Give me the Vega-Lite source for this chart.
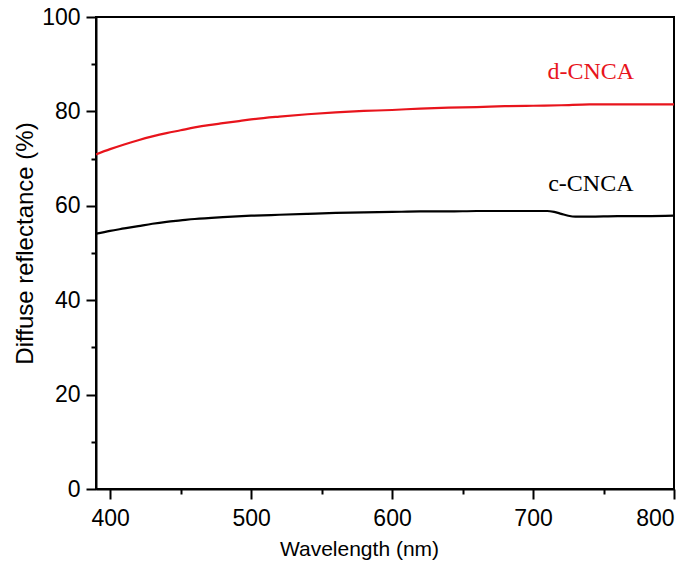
{
  "$schema": "https://vega.github.io/schema/vega-lite/v6.json",
  "width": 578,
  "height": 472,
  "autosize": {"type": "none"},
  "padding": {"left": 96, "top": 17, "right": 7, "bottom": 74},
  "background": "white",
  "config": {
    "view": {"stroke": "black", "strokeWidth": 2},
    "axis": {
      "domainColor": "black", "domainWidth": 2, "tickColor": "black", "tickWidth": 2,
      "labelFont": "Liberation Sans", "labelFontSize": 23, "labelColor": "black",
      "titleFont": "Liberation Sans", "titleFontWeight": "normal", "titleColor": "black",
      "grid": false
    }
  },
  "datasets": {
    "curves": [
      {"wl": 390, "r": 70.9, "s": "d-CNCA"}, {"wl": 400, "r": 72.0, "s": "d-CNCA"}, {"wl": 410, "r": 73.0, "s": "d-CNCA"},
      {"wl": 420, "r": 73.9, "s": "d-CNCA"}, {"wl": 430, "r": 74.7, "s": "d-CNCA"}, {"wl": 440, "r": 75.4, "s": "d-CNCA"},
      {"wl": 450, "r": 76.0, "s": "d-CNCA"}, {"wl": 460, "r": 76.6, "s": "d-CNCA"}, {"wl": 470, "r": 77.1, "s": "d-CNCA"},
      {"wl": 480, "r": 77.5, "s": "d-CNCA"}, {"wl": 490, "r": 77.9, "s": "d-CNCA"}, {"wl": 500, "r": 78.3, "s": "d-CNCA"},
      {"wl": 520, "r": 78.9, "s": "d-CNCA"}, {"wl": 540, "r": 79.4, "s": "d-CNCA"}, {"wl": 560, "r": 79.8, "s": "d-CNCA"},
      {"wl": 580, "r": 80.1, "s": "d-CNCA"}, {"wl": 600, "r": 80.3, "s": "d-CNCA"}, {"wl": 620, "r": 80.6, "s": "d-CNCA"},
      {"wl": 640, "r": 80.8, "s": "d-CNCA"}, {"wl": 660, "r": 80.9, "s": "d-CNCA"}, {"wl": 680, "r": 81.1, "s": "d-CNCA"},
      {"wl": 700, "r": 81.2, "s": "d-CNCA"}, {"wl": 720, "r": 81.3, "s": "d-CNCA"}, {"wl": 740, "r": 81.5, "s": "d-CNCA"},
      {"wl": 760, "r": 81.5, "s": "d-CNCA"}, {"wl": 780, "r": 81.5, "s": "d-CNCA"}, {"wl": 800, "r": 81.5, "s": "d-CNCA"},
      {"wl": 390, "r": 54.1, "s": "c-CNCA"}, {"wl": 400, "r": 54.7, "s": "c-CNCA"}, {"wl": 410, "r": 55.2, "s": "c-CNCA"},
      {"wl": 420, "r": 55.7, "s": "c-CNCA"}, {"wl": 430, "r": 56.2, "s": "c-CNCA"}, {"wl": 440, "r": 56.6, "s": "c-CNCA"},
      {"wl": 450, "r": 56.9, "s": "c-CNCA"}, {"wl": 460, "r": 57.2, "s": "c-CNCA"}, {"wl": 480, "r": 57.6, "s": "c-CNCA"},
      {"wl": 500, "r": 57.9, "s": "c-CNCA"}, {"wl": 520, "r": 58.1, "s": "c-CNCA"}, {"wl": 540, "r": 58.3, "s": "c-CNCA"},
      {"wl": 560, "r": 58.5, "s": "c-CNCA"}, {"wl": 580, "r": 58.6, "s": "c-CNCA"}, {"wl": 600, "r": 58.7, "s": "c-CNCA"},
      {"wl": 620, "r": 58.8, "s": "c-CNCA"}, {"wl": 640, "r": 58.8, "s": "c-CNCA"}, {"wl": 660, "r": 58.9, "s": "c-CNCA"},
      {"wl": 680, "r": 58.9, "s": "c-CNCA"}, {"wl": 700, "r": 58.9, "s": "c-CNCA"}, {"wl": 710, "r": 58.9, "s": "c-CNCA"},
      {"wl": 715, "r": 58.7, "s": "c-CNCA"}, {"wl": 720, "r": 58.3, "s": "c-CNCA"}, {"wl": 725, "r": 57.9, "s": "c-CNCA"},
      {"wl": 730, "r": 57.7, "s": "c-CNCA"}, {"wl": 740, "r": 57.7, "s": "c-CNCA"}, {"wl": 760, "r": 57.8, "s": "c-CNCA"},
      {"wl": 780, "r": 57.8, "s": "c-CNCA"}, {"wl": 800, "r": 57.9, "s": "c-CNCA"}
    ],
    "labels": [
      {"wl": 741, "r": 88.3, "s": "d-CNCA"},
      {"wl": 741, "r": 64.7, "s": "c-CNCA"}
    ]
  },
  "layer": [
    {
      "data": {"name": "curves"},
      "mark": {"type": "line", "strokeWidth": 2.2, "interpolate": "monotone", "clip": true},
      "encoding": {
        "x": {
          "field": "wl", "type": "quantitative",
          "scale": {"domain": [390, 800], "nice": false, "zero": false},
          "axis": {
            "title": "Wavelength (nm)",
            "titleFontSize": 21,
            "titleX": 263,
            "titleAlign": "center",
            "values": [400, 450, 500, 550, 600, 650, 700, 750, 800],
            "labelExpr": "datum.value % 100 === 0 ? datum.label : ''",
            "tickSize": {"condition": {"test": "datum.value % 100 === 0", "value": 10}, "value": 5},
            "labelPadding": 8,
            "titlePadding": 8,
            "labelFlush": true
          }
        },
        "y": {
          "field": "r", "type": "quantitative",
          "scale": {"domain": [0, 100], "nice": false},
          "axis": {
            "title": "Diffuse reflectance (%)",
            "titleFontSize": 24,
            "titleY": 226,
            "titleAlign": "center",
            "values": [0, 10, 20, 30, 40, 50, 60, 70, 80, 90, 100],
            "labelExpr": "datum.value % 20 === 0 ? datum.label : ''",
            "tickSize": {"condition": {"test": "datum.value % 20 === 0", "value": 10}, "value": 5},
            "labelPadding": 6,
            "titlePadding": 4,
            "labelFlush": false
          }
        },
        "color": {
          "field": "s", "type": "nominal",
          "scale": {"domain": ["d-CNCA", "c-CNCA"], "range": ["#e8141c", "#000000"]},
          "legend": null
        }
      }
    },
    {
      "data": {"name": "labels"},
      "mark": {"type": "text", "font": "Liberation Serif", "fontSize": 24, "align": "center", "baseline": "middle"},
      "encoding": {
        "x": {"field": "wl", "type": "quantitative"},
        "y": {"field": "r", "type": "quantitative"},
        "text": {"field": "s"},
        "color": {"field": "s", "type": "nominal", "legend": null}
      }
    }
  ]
}
